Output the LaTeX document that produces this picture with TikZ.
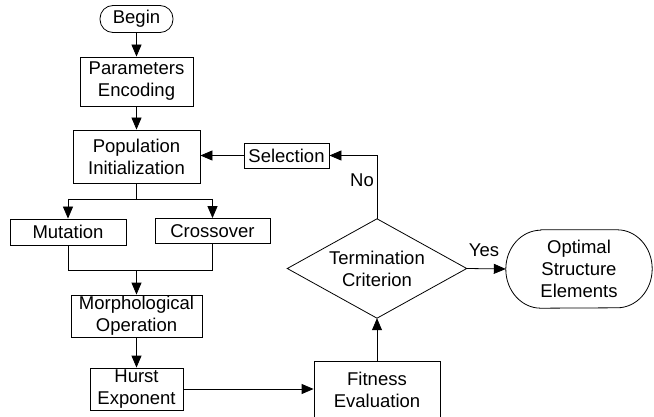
\documentclass[tikz,border=0pt]{standalone}
\usepackage{fontspec}
\setmainfont{Liberation Sans}
\usetikzlibrary{arrows.meta}
\begin{document}
\begin{tikzpicture}[x=1pt,y=-1pt,
  every node/.style={font=\fontsize{18.5}{22}\selectfont, align=center, inner sep=0pt},
  box/.style={draw, line width=0.8pt, rectangle},
  line/.style={line width=0.8pt},
  arr/.style={line width=0.8pt, -{Triangle[length=12pt,width=10pt]}},
  lbl/.style={font=\fontsize{18.5}{22}\selectfont}
]
\useasboundingbox (0,0) rectangle (654,417);
\node[draw, line width=0.8pt, rounded corners=13pt, minimum width=73pt, minimum height=27pt] (begin) at (136.5,19) {Begin};
\node[box, minimum width=113pt, minimum height=49pt] (pe) at (136.5,81.5) {Parameters\\Encoding};
\node[box, minimum width=127pt, minimum height=53pt] (pop) at (136.5,156.5) {Population\\Initialization};
\node[box, minimum width=85pt, minimum height=25pt] (sel) at (286.5,155.5) {Selection};
\node[box, minimum width=116pt, minimum height=26pt] (mut) at (68,232) {Mutation};
\node[box, minimum width=115pt, minimum height=25pt] (cross) at (212.5,231) {Crossover};
\node[box, minimum width=131pt, minimum height=42pt] (morph) at (136.5,316) {Morphological\\Operation};
\node[box, minimum width=93pt, minimum height=42pt] (hurst) at (136.5,389) {Hurst\\Exponent};
\node[box, minimum width=126pt, minimum height=58pt] (fit) at (377,390) {Fitness\\Evaluation};
\node[minimum width=179pt, minimum height=99pt] (term) at (377,268.5) {Termination\\Criterion};
\draw[line, line join=miter] (term.north) -- (term.east) -- (term.south) -- (term.west) -- cycle;
\node[minimum width=146pt, minimum height=78pt] (opt) at (579,269) {Optimal\\Structure\\Elements};
\draw[line] ([xshift=35pt]opt.north west) -- ([xshift=-35pt]opt.north east)
  arc[start angle=90,end angle=-90,x radius=35pt,y radius=39pt]
  -- ([xshift=35pt]opt.south west)
  arc[start angle=270,end angle=90,x radius=35pt,y radius=39pt] -- cycle;

\coordinate (j1) at (136.5,199);
\coordinate (j2) at (136.5,270);

\draw[arr] (begin.south) -- (pe.north);
\draw[arr] (pe.south) -- (pop.north);
\draw[arr] (sel.west) -- (sel.west -| pop.east);
\draw[line] (pop.south) -- (j1);
\draw[line] (mut.north |- j1) -- (cross.north |- j1);
\draw[arr] (mut.north |- j1) -- (mut.north);
\draw[arr] (cross.north |- j1) -- (cross.north);
\draw[line] (mut.south) -- (mut.south |- j2) -- (cross.south |- j2) -- (cross.south);
\draw[arr] (j2) -- (morph.north);
\draw[arr] (morph.south) -- (hurst.north);
\draw[arr] (hurst.east) -- (hurst.east -| fit.west);
\draw[arr] (fit.north) -- (term.south);
\draw[arr] (term.north) -- (term.north |- sel.east) -- (sel.east);
\node[lbl] (no) at (362,180) {No};
\draw[arr] (term.east) -- (opt.west);
\node[lbl] (yes) at (484,250) {Yes};
\end{tikzpicture}
\end{document}
